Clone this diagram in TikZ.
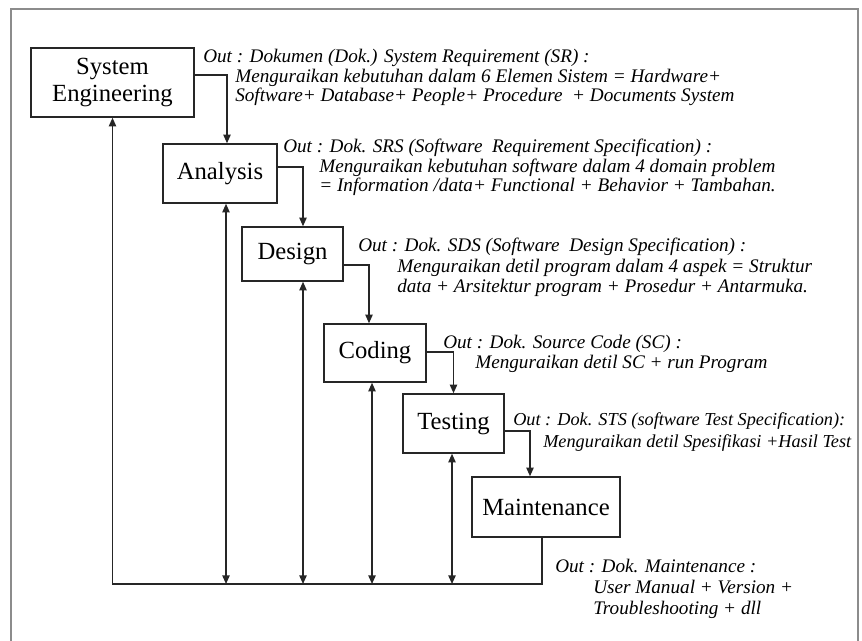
\documentclass[tikz,border=0pt]{standalone}
\usepackage{fontspec}
\setmainfont{Liberation Serif}
\usetikzlibrary{calc,arrows.meta}
\begin{document}
\begin{tikzpicture}[x=0.75pt,y=-0.75pt,
  box/.style={draw=black!85, line width=1.1pt, fill=white, inner sep=0pt, align=center,
    font=\fontsize{18.5}{20.5}\selectfont},
  ann/.style={anchor=base west, inner sep=0pt, font=\fontsize{14.4}{16}\selectfont\itshape},
  annsmall/.style={ann, font=\fontsize{13.7}{16}\selectfont\itshape},
  arr/.style={line width=1.1pt, draw=black!85, -{Triangle[length=6.5pt,width=5.5pt]}},
  darr/.style={line width=1.1pt, draw=black!85, {Triangle[length=6.5pt,width=5.5pt]}-{Triangle[length=6.5pt,width=5.5pt]}},
  frame/.style={draw=black!45, line width=0.8pt}]
\useasboundingbox (0,0) rectangle (862,640);
\draw[frame] (11,645) -- (11,9) -- (858,9) -- (858,645);
% boxes
\node[box, minimum width=122.25pt, minimum height=51.75pt] (SE) at (112.5,82.5) {System\\Engineering};
\node[box, minimum width=85.5pt, minimum height=44.25pt] (AN) at (220,173.5) {Analysis};
\node[box, minimum width=75.75pt, minimum height=40.5pt] (DE) at (292.5,254) {Design};
\node[box, minimum width=76.5pt, minimum height=43.5pt] (CO) at (375,353) {Coding};
\node[box, minimum width=75.75pt, minimum height=44.25pt] (TE) at (453.5,423.5) {Testing};
\node[box, minimum width=111pt, minimum height=45pt] (MA) at (546,507) {Maintenance};
\coordinate (bot) at (0,584);
% forward connectors
\draw[arr] ($(SE.east)+(0,-7.5)$) -| ($(AN.north)+(7,0)$);
\draw[arr] ($(AN.east)+(0,-6.5)$) -| ($(DE.north)+(10.5,0)$);
\draw[arr] ($(DE.east)+(0,11)$) -| ($(CO.north)+(-6,0)$);
\draw[arr] ($(CO.east)+(0,-1)$) -| (TE.north);
\draw[arr] ($(TE.east)+(0,7.5)$) -| ($(MA.north)+(-16,0)$);
% feedback loop
\draw[arr] ($(MA.south)+(-4,0)$) |- (SE.south |- bot) -- (SE.south);
\coordinate (a1) at ($(AN.south)+(6,0)$);
\coordinate (a2) at ($(DE.south)+(10.5,0)$);
\coordinate (a3) at ($(CO.south)+(-3,0)$);
\coordinate (a4) at ($(TE.south)+(-1.5,0)$);
\draw[darr] (a1) -- (a1 |- bot);
\draw[darr] (a2) -- (a2 |- bot);
\draw[darr] (a3) -- (a3 |- bot);
\draw[darr] (a4) -- (a4 |- bot);
% annotations
\node[ann] (t1a) at (203,62) {Out : Dokumen (Dok.) System Requirement (SR) :};
\node[ann] (t1b) at (235,82) {Menguraikan kebutuhan dalam 6 Elemen Sistem = Hardware+};
\node[ann] (t1c) at (235,101) {Software+ Database+ People+ Procedure \ + Documents System};
\node[ann] (t2a) at (283,152) {Out : Dok. SRS (Software \ Requirement Specification) :};
\node[ann] (t2b) at (319,172) {Menguraikan kebutuhan software dalam 4 domain problem};
\node[ann] (t2c) at (319,191) {= Information /data+ Functional + Behavior + Tambahan.};
\node[ann] (t3a) at (358,251) {Out : Dok. SDS (Software \ Design Specification) :};
\node[ann] (t3b) at (397,272) {Menguraikan detil program dalam 4 aspek = Struktur};
\node[ann] (t3c) at (397,292) {data + Arsitektur program + Prosedur + Antarmuka.};
\node[ann] (t4a) at (443,348) {Out : Dok. Source Code (SC) :};
\node[ann] (t4b) at (475,368) {Menguraikan detil SC + run Program};
\node[annsmall] (t5a) at (513,425) {Out : Dok. STS (software Test Specification):};
\node[annsmall] (t5b) at (543,447) {Menguraikan detil Spesifikasi +Hasil Test};
\node[ann] (t6a) at (555,572) {Out : Dok. Maintenance :};
\node[ann] (t6b) at (593,593) {User Manual + Version +};
\node[ann] (t6c) at (593,614) {Troubleshooting + dll};
\end{tikzpicture}
\end{document}
